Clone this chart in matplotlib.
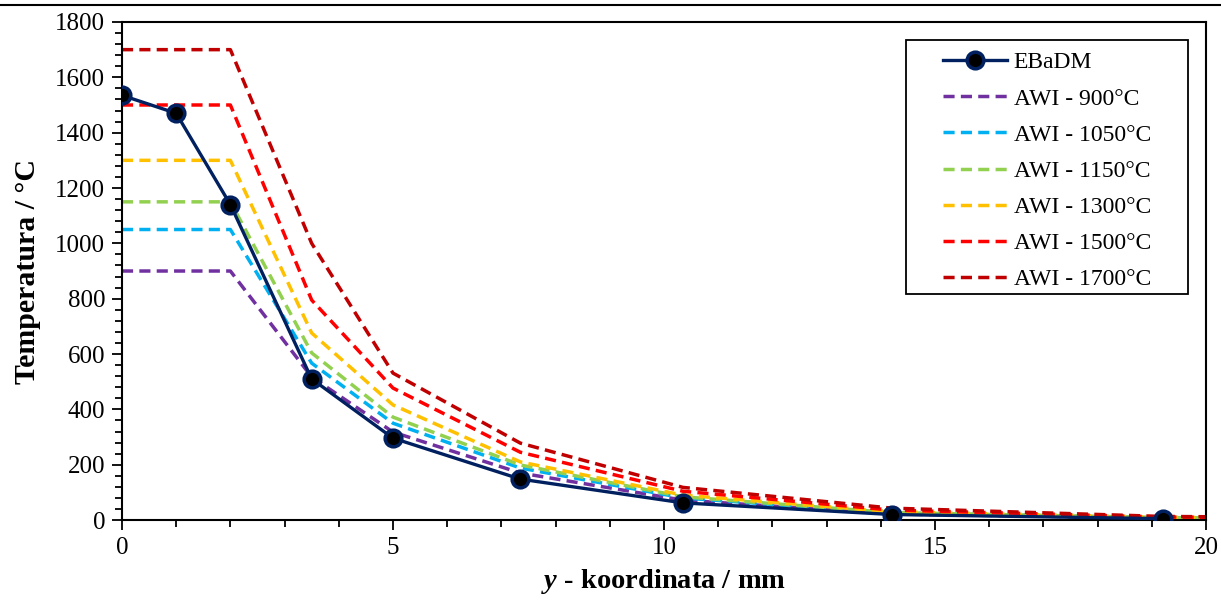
import matplotlib
matplotlib.use('Agg')
import matplotlib.pyplot as plt
from matplotlib.lines import Line2D
from matplotlib.patches import Rectangle
from matplotlib.ticker import MultipleLocator

plt.rcParams['font.family'] = ['Liberation Serif', 'DejaVu Serif']
plt.rcParams['mathtext.fontset'] = 'custom'
plt.rcParams['mathtext.rm'] = 'Liberation Serif'
plt.rcParams['mathtext.it'] = 'Liberation Serif:italic:bold'
plt.rcParams['mathtext.bf'] = 'Liberation Serif:bold'

# EBaDM tocke
x_ebadm = [0, 1, 2, 3.5, 5, 7.35, 10.35, 14.2, 19.2]
t_ebadm = [1535, 1470, 1140, 510, 296, 148, 62, 20, 5]

# AWI krivulje (zajednicke tocke po y)
x_awi = [0, 2, 3.5, 5, 7.35, 10.35, 14.2, 19.2, 20]
awi_900 = [900, 900, 517, 318, 170, 72, 22, 7, 6]
awi_1050 = [1050, 1050, 567, 350, 188, 80, 25, 8, 7]
awi_1150 = [1150, 1150, 604, 372, 199, 84, 27, 9, 8]
awi_1300 = [1300, 1300, 676, 416, 210, 90, 30, 10, 9]
awi_1500 = [1500, 1500, 795, 477, 245, 104, 36, 11, 10]
awi_1700 = [1700, 1700, 1000, 531, 278, 118, 43, 13, 12]

awi_serije = [awi_900, awi_1050, awi_1150, awi_1300, awi_1500, awi_1700]
awi_labele = ['AWI - 900°C', 'AWI - 1050°C', 'AWI - 1150°C',
              'AWI - 1300°C', 'AWI - 1500°C', 'AWI - 1700°C']
boje = ['#7030A0', '#00B0F0', '#92D050', '#FFC000', '#FF0000', '#C00000']

fig = plt.figure(figsize=(12.21, 6.04), dpi=100)
ax = fig.add_axes([0.0999, 0.139, 0.8878, 0.8246])

ax.plot(x_ebadm, t_ebadm, color='#002060', lw=2.4, marker='o', markersize=12,
        markerfacecolor='black', markeredgecolor='#002060', markeredgewidth=2.5,
        label='EBaDM', zorder=3)
for serija, lab, c in zip(awi_serije, awi_labele, boje):
    ax.plot(x_awi, serija, color=c, lw=2.5, dashes=(3.2, 1.8), label=lab, zorder=2)

ax.set_xlim(0, 20)
ax.set_ylim(0, 1800)
ax.xaxis.set_major_locator(MultipleLocator(5))
ax.xaxis.set_minor_locator(MultipleLocator(1))
ax.yaxis.set_major_locator(MultipleLocator(200))
ax.yaxis.set_minor_locator(MultipleLocator(40))
ax.tick_params(which='major', direction='out', length=7, width=1.3, labelsize=18, pad=5)
ax.tick_params(which='minor', direction='out', length=5, width=1.3)
for s in ax.spines.values():
    s.set_linewidth(1.5)

ax.set_xlabel(r'$\mathit{y}$ - koordinata / mm', fontsize=20.5, fontweight='bold', labelpad=6)
ax.set_ylabel('Temperatura / °C', fontsize=21.5, fontweight='bold', labelpad=10)

# legenda bez okvira + rucno nacrtan okvir
leg = ax.legend(loc='upper left', bbox_to_anchor=(0.7574, 0.940), fontsize=17,
                frameon=False, handlelength=2.7, labelspacing=0.62,
                borderpad=0, borderaxespad=0, handletextpad=0.3)
ax.add_patch(Rectangle((0.7232, 0.4538), 0.2602, 0.5101, transform=ax.transAxes,
                       fill=False, edgecolor='black', lw=1.3, zorder=5))

# linija zaglavlja stranice
fig.add_artist(Line2D([0, 1], [0.991, 0.991], color='black', lw=1.5, transform=fig.transFigure))

plt.savefig('out.png', dpi=100)
